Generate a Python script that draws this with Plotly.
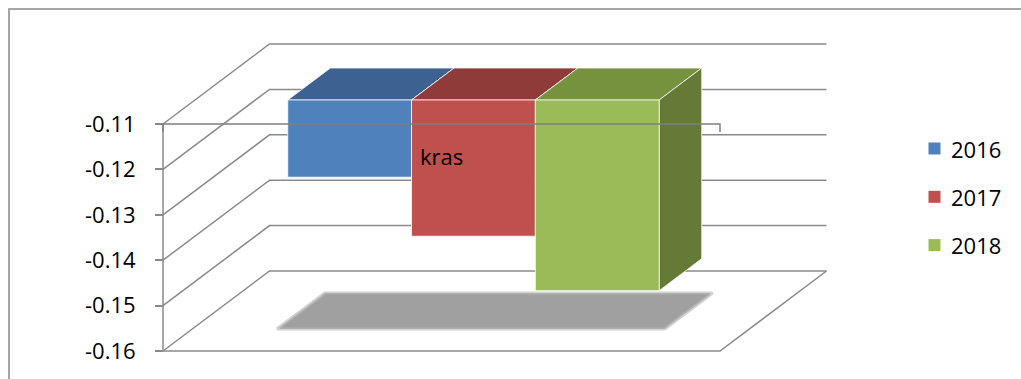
import plotly.graph_objects as go

# ---- data ---------------------------------------------------------------
categories = ["kras"]
series_names = ["2016", "2017", "2018"]
values_2016 = [-0.127]
values_2017 = [-0.140]
values_2018 = [-0.152]
series_values = [values_2016, values_2017, values_2018]

tick_values = [-0.16, -0.15, -0.14, -0.13, -0.12, -0.11]
tick_labels = ["-0.16", "-0.15", "-0.14", "-0.13", "-0.12", "-0.11"]

# ---- styling ------------------------------------------------------------
front_colors = ["#4f81bd", "#c0504d", "#9bbb59"]
top_colors = ["#3d6190", "#8e3b3a", "#77923f"]
side_colors = ["#30507a", "#6f2e2d", "#657a37"]
grid_color = "#8a8a8a"
font_family = "Open Sans"

W, H = 1021, 379
M_L, M_R, M_T, M_B = 155, 186, 38, 21

Y_MIN, Y_MAX = tick_values[0], tick_values[-1]

# oblique projection of the 3-D box: moving from the front plane (depth 0)
# to the back wall (depth 1) shifts a point right by DX and up by DY
PX_X = 557.0            # pixels per category width
PX_Y = 4540.0           # pixels per value unit
DX = 106.5 / PX_X
DY = 80.0 / PX_Y

x_lo = -8.0 / PX_X
x_hi = x_lo + (W - M_L - M_R) / PX_X
y_lo = Y_MIN - 7.0 / PX_Y
y_hi = y_lo + (H - M_T - M_B) / PX_Y

BAR_D0, BAR_D1 = 0.3, 0.7   # depth slab occupied by the bars
GROUP_W = 2.0 / 3.0         # gap width 50 %
n_series = len(series_names)
bar_w = GROUP_W / n_series


def proj(x, v, d):
    return x + d * DX, v + d * DY


def poly(points, fill, line_color="rgba(255,255,255,0.75)", line_width=1):
    xs, ys = zip(*[proj(*p) for p in points])
    return go.Scatter(
        x=list(xs) + [xs[0]], y=list(ys) + [ys[0]],
        mode="lines", fill="toself", fillcolor=fill,
        line=dict(color=line_color, width=line_width),
        hoverinfo="skip", showlegend=False,
    )


def seg(points, color=grid_color, width=1.5):
    xs, ys = zip(*[proj(*p) for p in points])
    return go.Scatter(
        x=list(xs), y=list(ys), mode="lines",
        line=dict(color=color, width=width),
        hoverinfo="skip", showlegend=False,
    )


fig = go.Figure()

n_cat = len(categories)

# side wall diagonals + back wall gridlines
for v in tick_values:
    fig.add_trace(seg([(0, v, 0), (0, v, 1), (n_cat, v, 1)]))

# front vertical axis line
fig.add_trace(seg([(0, Y_MIN, 0), (0, Y_MAX, 0)]))
# floor front edge and right edge
fig.add_trace(seg([(0, Y_MIN, 0), (n_cat, Y_MIN, 0), (n_cat, Y_MIN, 1)]))

# soft floor shadow under the bar group
for ci in range(n_cat):
    g0 = ci + (1 - GROUP_W) / 2 - 0.015
    g1 = ci + (1 + GROUP_W) / 2 + 0.015
    d0, d1 = BAR_D0 - 0.025, BAR_D1 + 0.025
    fig.add_trace(poly([(g0, Y_MIN, d0), (g1, Y_MIN, d0), (g1, Y_MIN, d1), (g0, Y_MIN, d1)],
                       "#c9c9c9", line_color="#d2d2d2", line_width=3))
    fig.add_trace(poly([(g0 + 0.003, Y_MIN, d0 + 0.01), (g1 - 0.003, Y_MIN, d0 + 0.01),
                        (g1 - 0.003, Y_MIN, d1 - 0.01), (g0 + 0.003, Y_MIN, d1 - 0.01)],
                       "#a0a0a0", line_color="#b0b0b0", line_width=1.5))

# bars (left to right so later bars hide earlier side faces)
for ci in range(n_cat):
    for si in range(n_series):
        val = series_values[si][ci]
        x0 = ci + (1 - GROUP_W) / 2 + si * bar_w
        x1 = x0 + bar_w
        top = min(Y_MAX, 0.0)   # bars hang from zero, clipped at the axis maximum
        bot = max(val, Y_MIN)
        fig.add_trace(poly([(x0, top, BAR_D0), (x1, top, BAR_D0), (x1, top, BAR_D1), (x0, top, BAR_D1)],
                           top_colors[si]))
        fig.add_trace(poly([(x1, bot, BAR_D0), (x1, bot, BAR_D1), (x1, top, BAR_D1), (x1, top, BAR_D0)],
                           side_colors[si]))
        fig.add_trace(poly([(x0, bot, BAR_D0), (x1, bot, BAR_D0), (x1, top, BAR_D0), (x0, top, BAR_D0)],
                           front_colors[si]))

# category axis along the front top edge, with boundary tick marks
tick_drop = 8.0 / PX_Y
fig.add_trace(seg([(0, Y_MAX - tick_drop, 0), (0, Y_MAX, 0), (n_cat, Y_MAX, 0), (n_cat, Y_MAX - tick_drop, 0)],
                  color="#7f7f7f", width=1.5))

# ---- legend (swatches + labels) ----------------------------------------
pw, ph = W - M_L - M_R, H - M_T - M_B


def paper_x(px):
    return (px - M_L) / pw


def paper_y(py):
    return (H - M_B - py) / ph


shapes = []
annotations = []
legend_top, legend_step = 148.5, 48.3
for si, name in enumerate(series_names):
    cy = legend_top + si * legend_step
    shapes.append(dict(type="rect", xref="paper", yref="paper",
                       x0=paper_x(928.5), x1=paper_x(940.5),
                       y0=paper_y(cy + 6), y1=paper_y(cy - 6),
                       fillcolor=front_colors[si], line=dict(width=0)))
    annotations.append(dict(xref="paper", yref="paper", x=paper_x(949), y=paper_y(cy),
                            xanchor="left", yanchor="middle", showarrow=False,
                            text=name, font=dict(family=font_family, size=22, color="#000")))

# chart area border
shapes.append(dict(type="rect", xref="paper", yref="paper",
                   x0=paper_x(9), x1=paper_x(W + 10), y0=paper_y(H + 10), y1=paper_y(9),
                   line=dict(color="#888888", width=1.5), fillcolor="rgba(0,0,0,0)", layer="below"))

fig.update_layout(
    width=W, height=H,
    margin=dict(l=M_L, r=M_R, t=M_T, b=M_B),
    paper_bgcolor="white", plot_bgcolor="white",
    showlegend=False,
    shapes=shapes, annotations=annotations,
    font=dict(family=font_family, size=22, color="#000"),
    xaxis=dict(
        range=[x_lo, x_hi], anchor="free",
        position=(Y_MAX - y_lo) / (y_hi - y_lo),
        tickmode="array", tickvals=[ci + 0.5 for ci in range(n_cat)], ticktext=categories,
        ticks="", showline=False, showgrid=False, zeroline=False,
        ticklabelstandoff=18,
        tickfont=dict(family=font_family, size=22, color="#000"),
        fixedrange=True,
    ),
    yaxis=dict(
        range=[y_lo, y_hi], anchor="free",
        position=(0 - x_lo) / (x_hi - x_lo),
        tickmode="array", tickvals=tick_values, ticktext=tick_labels,
        ticks="outside", ticklen=8, tickwidth=1.5, tickcolor=grid_color,
        showline=False, showgrid=False, zeroline=False,
        ticklabelstandoff=15,
        tickfont=dict(family=font_family, size=22, color="#000"),
        fixedrange=True,
    ),
)

fig.write_html("out.html")
